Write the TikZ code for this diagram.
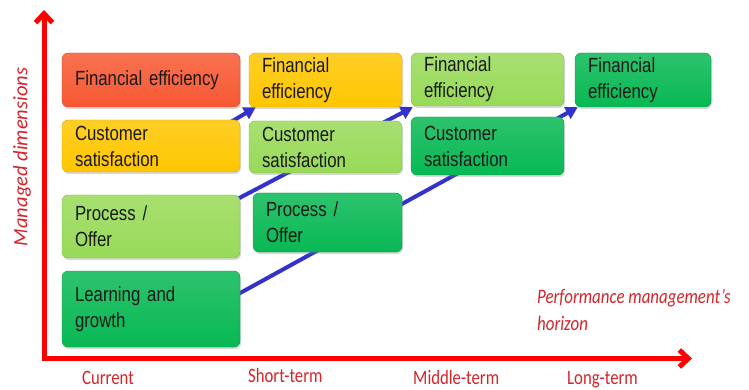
\documentclass[tikz,border=0pt]{standalone}
\usepackage{fontspec}
\setmainfont[FakeStretch=0.82,WordSpace=0.7]{Liberation Sans}
\newfontfamily\calibri[FakeStretch=0.82]{Carlito}
\newfontfamily\calibriwide{Carlito}
\usetikzlibrary{arrows.meta,calc,shadows,backgrounds}

\definecolor{boxred}{RGB}{247,88,50}
\definecolor{boxyellow}{RGB}{255,198,0}
\definecolor{boxlime}{RGB}{152,218,88}
\definecolor{boxgreen}{RGB}{8,184,84}
\definecolor{flowblue}{RGB}{51,51,204}
\definecolor{axisred}{RGB}{255,0,0}
\definecolor{labelred}{RGB}{212,36,42}

\tikzset{
  dimbox/.style={rounded corners=6pt, inner xsep=13pt, inner ysep=0pt, align=left,
    font=\fontsize{20.5}{26}\selectfont, text=black!90,
    top color=#1!85!white, bottom color=#1, draw=#1!85!black,
    drop shadow={opacity=0.3, shadow xshift=1pt, shadow yshift=-2pt}},
  flow/.style={draw=flowblue, line width=4pt, -{Triangle[length=12pt,width=13pt]}},
  axis/.style={draw=axisred, line width=5pt, line join=miter,
    {Straight Barb[length=9pt,width=17pt]}-{Straight Barb[length=9pt,width=17pt]}},
  term/.style={font=\calibri\fontsize{20.4}{24}\selectfont, text=labelred, inner sep=0pt}
}

\begin{document}
\begin{tikzpicture}[x=1pt,y=-1pt]
\useasboundingbox (0,0) rectangle (749,390);

\node[dimbox=boxred, text width=152pt, minimum height=54pt] (fin1) at (151,80) {Financial efficiency};
\node[dimbox=boxyellow, text width=152pt, minimum height=52pt] (cust1) at (151,146) {Customer\\satisfaction};
\node[dimbox=boxlime, text width=152pt, minimum height=63pt] (proc1) at (151,226.5) {Process /\\Offer};
\node[dimbox=boxgreen, text width=152pt, minimum height=76pt] (learn1) at (151,309) {Learning and\\growth};

\node[dimbox=boxyellow, text width=127pt, minimum height=54pt] (fin2) at (325.5,80) {Financial\\efficiency};
\node[dimbox=boxlime, text width=127pt, minimum height=52pt] (cust2) at (325.5,147) {Customer\\satisfaction};
\node[dimbox=boxgreen, text width=123pt, minimum height=59pt] (proc2) at (327.5,222.5) {Process /\\Offer};

\node[dimbox=boxlime, text width=127pt, minimum height=53pt] (fin3) at (487.5,79.5) {Financial\\efficiency};
\node[dimbox=boxgreen, text width=127pt, minimum height=58pt] (cust3) at (487.5,146) {Customer\\satisfaction};

\node[dimbox=boxgreen, text width=110pt, minimum height=54pt] (fin4) at (643,80) {Financial\\efficiency};

\begin{scope}[on background layer]
\draw[flow] ($(cust1.north east)+(-14,5)$) -- ($(fin2.south west)+(7,0)$);
\draw[flow] ($(proc1.north east)+(-10,8)$) -- ($(fin3.south west)+(2,1)$);
\draw[flow] ($(learn1.east)+(-10,-10.5)$) -- ($(fin4.south west)+(3,0)$);
\end{scope}

\coordinate (origin) at (44,358.5);
\coordinate (ytip) at (44,10);
\coordinate (xtip) at (692,358.5);
\draw[axis] (ytip) -- (origin) -- (xtip);

\node[term, rotate=90, font=\calibriwide\itshape\fontsize{20.5}{24}\selectfont] (ydim) at (22,157) {Managed dimensions};

\foreach \x/\y/\lbl [count=\i] in {82/384.5/Current,248/382/Short-term,413/384.5/Middle-term,567/384.5/Long-term}
\node[term, anchor=base west] (term\i) at (\x,\y) {\lbl};

\node[term, anchor=north west, align=left, font=\calibri\itshape\fontsize{20.6}{27}\selectfont] (horizon) at (537,289.5) {Performance management’s\\horizon};
\end{tikzpicture}
\end{document}
